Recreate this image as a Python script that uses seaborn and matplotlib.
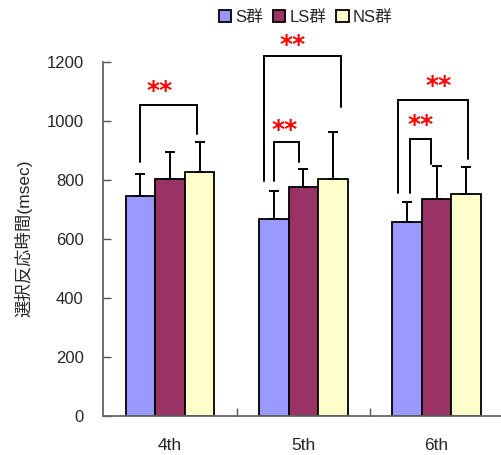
import matplotlib
matplotlib.use("Agg")
import matplotlib.pyplot as plt
from matplotlib.patches import Patch
import numpy as np
import pandas as pd
import seaborn as sns

# Mean choice reaction time (msec) and SD per grade and group
grades = ["4th", "5th", "6th"]
groups = ["S群", "LS群", "NS群"]
mean_s = [746, 666, 655]
mean_ls = [802, 774, 735]
mean_ns = [825, 802, 752]
sd_s = [72, 97, 68]
sd_ls = [92, 62, 113]
sd_ns = [103, 159, 91]
colors = ["#9999FF", "#993366", "#FFFFCC"]

# Significance brackets: grade index, left x offset, right x offset,
# left leg bottom, right leg bottom, bracket top (msec)
br_grade = [0, 1, 1, 2, 2]
br_left = [-0.223, -0.295, -0.222, -0.293, -0.203]
br_right = [0.205, 0.283, -0.030, 0.235, -0.043]
br_lbot = [860, 796, 796, 755, 755]
br_rbot = [956, 1046, 860, 869, 852]
br_top = [1052, 1220, 928, 1069, 938]
# "**" markers: x offset from grade centre, height (msec)
star_dx = [-0.075, -0.078, -0.137, 0.015, -0.123]
star_y = [1100, 1258, 970, 1116, 985]

means = [mean_s, mean_ls, mean_ns]
sds = [sd_s, sd_ls, sd_ns]
df = pd.DataFrame({
    "grade": np.repeat([grades], 3, axis=0).ravel(),
    "group": np.repeat(groups, len(grades)),
    "rt": np.ravel(means),
    "sd": np.ravel(sds),
})

sns.set_theme(style="white")
plt.rcParams["font.family"] = ["Liberation Sans", "Noto Sans CJK JP", "DejaVu Sans"]

fig = plt.figure(figsize=(5.01, 4.55), dpi=100)
ax = fig.add_axes([0.2062, 0.0864, 0.7938, 0.778])

sns.barplot(data=df, x="grade", y="rt", hue="group", order=grades,
            hue_order=groups, palette=colors, width=0.665, errorbar=None,
            edgecolor="black", linewidth=1.3, saturation=1, legend=False, ax=ax)

# upward-only SD error bars, placed on each bar's centre
for container, g_sd in zip(ax.containers, sds):
    xs = [p.get_x() + p.get_width() / 2 for p in container]
    ys = [p.get_height() for p in container]
    ax.errorbar(xs, ys, yerr=[np.zeros(len(g_sd)), g_sd], fmt="none",
                ecolor="black", elinewidth=1.4, capsize=3.5, capthick=1.4,
                zorder=3)

for g, l, r, lb, rb, t in zip(br_grade, br_left, br_right, br_lbot, br_rbot, br_top):
    ax.plot([g + l, g + l, g + r, g + r], [lb, t, t, rb], color="black",
            lw=1.4, clip_on=False, zorder=4, solid_joinstyle="miter")
for g, dx, y in zip(br_grade, star_dx, star_y):
    ax.text(g + dx, y, "**", color="red", fontsize=18, fontweight="bold",
            ha="center", va="center", family="DejaVu Sans", clip_on=False)

ax.set_xlim(-0.5, 2.483)
ax.set_ylim(0, 1200)
ax.set_yticks(np.arange(0, 1201, 200))
ax.set_xticks([0.5, 1.5], minor=True)
ax.set_xticks(range(len(grades)))
ax.set_xticklabels(grades)
ax.tick_params(axis="x", which="major", length=0, labelsize=12.5, pad=16)
ax.tick_params(axis="x", which="minor", direction="in", length=6,
               color="#555555", width=1, bottom=True)
ax.tick_params(axis="y", direction="in", length=6, color="#555555",
               width=1, labelsize=12, pad=14, left=True)
ax.set_xlabel("")
ax.set_ylabel("選択反応時間(msec)", fontsize=12.5, labelpad=10)
for side in ["top", "right"]:
    ax.spines[side].set_visible(False)
for side in ["left", "bottom"]:
    ax.spines[side].set_color("#666666")
    ax.spines[side].set_linewidth(1.3)

handles = [Patch(facecolor=c, edgecolor="black", linewidth=1.3) for c in colors]
fig.legend(handles, groups, loc="center", bbox_to_anchor=(0.61, 0.962),
           ncol=3, frameon=False, fontsize=12, handlelength=0.75,
           handleheight=0.75, handletextpad=0.25, columnspacing=0.6)

fig.savefig("out.png", dpi=100)
